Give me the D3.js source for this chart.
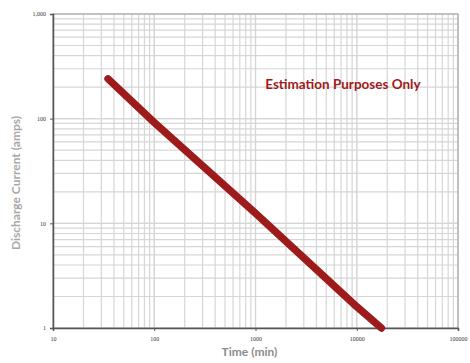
<!DOCTYPE html>
<meta charset="utf-8">
<body style="margin:0;background:#fff">
<script src="https://d3js.org/d3.v7.min.js"></script>
<script>
// discharge curve (time in min, current in amps)
var timeMin = [35, 100, 1000, 10000, 17500];
var currentAmps = [240, 92, 12.5, 1.6, 1];
var xTickValues = [10, 100, 1000, 10000, 100000];
var xTickLabels = ["10", "100", "1000", "10000", "100000"];
var yTickValues = [1, 10, 100, 1000];
var yTickLabels = ["1", "10", "100", "1,000"];

var margin = {top: 14, right: 12, bottom: 35, left: 53},
    width = 470 - margin.left - margin.right,
    height = 363 - margin.top - margin.bottom;

var svg = d3.select("body").append("svg")
    .attr("width", 470).attr("height", 363)
    .style("font-family", "Lato, 'Open Sans', sans-serif");
var g = svg.append("g").attr("transform", "translate(" + margin.left + "," + margin.top + ")");

var x = d3.scaleLog().domain([10, 100000]).range([0, width]);
var y = d3.scaleLog().domain([1, 1000]).range([height, 0]);

// minor + major gridlines
var xGrid = [], yGrid = [];
for (var d = 10; d < 100000; d *= 10) for (var k = 1; k <= 10; k++) xGrid.push(d * k);
for (var d = 1; d < 1000; d *= 10) for (var k = 1; k <= 10; k++) yGrid.push(d * k);

g.selectAll(".vg").data(xGrid).enter().append("line")
    .attr("x1", x).attr("x2", x).attr("y1", 0).attr("y2", height)
    .attr("stroke", "#d6d6d6").attr("stroke-width", 1.2);
g.selectAll(".hg").data(yGrid).enter().append("line")
    .attr("y1", y).attr("y2", y).attr("x1", 0).attr("x2", width)
    .attr("stroke", "#d6d6d6").attr("stroke-width", 1.2);

// plot border
g.append("rect").attr("width", width).attr("height", height)
    .attr("fill", "none").attr("stroke", "#9a9a9a").attr("stroke-width", 1);

// axes
var xAxis = g.append("g").attr("transform", "translate(0," + height + ")")
    .call(d3.axisBottom(x).tickValues(xTickValues).tickSize(3).tickPadding(6)
        .tickFormat(function(v, i) { return xTickLabels[i]; }));
var yAxis = g.append("g")
    .call(d3.axisLeft(y).tickValues(yTickValues).tickSize(3).tickPadding(4)
        .tickFormat(function(v, i) { return yTickLabels[i]; }));
[xAxis, yAxis].forEach(function(a) {
    a.select(".domain").attr("stroke", "#555").attr("stroke-width", 1.5);
    a.selectAll(".tick line").attr("stroke", "#555");
    a.selectAll("text").attr("fill", "#333").style("font-size", "6px")
        .style("font-family", "'Liberation Serif', serif");
});

// the curve
var line = d3.line().x(function(d) { return x(d[0]); }).y(function(d) { return y(d[1]); });
g.append("path").datum(d3.zip(timeMin, currentAmps))
    .attr("d", line).attr("fill", "none")
    .attr("stroke", "#9e1b1b").attr("stroke-width", 7.5)
    .attr("stroke-linecap", "round").attr("stroke-linejoin", "round");

// note
g.append("text").attr("x", x(7300)).attr("y", y(214) + 5)
    .attr("text-anchor", "middle")
    .attr("fill", "#9e1b1b").style("font-size", "13.5px").style("font-weight", "bold")
    .text("Estimation Purposes Only");

// axis titles
svg.append("text").attr("x", margin.left + width / 2 - 6).attr("y", 356)
    .attr("text-anchor", "middle").attr("fill", "#8c8c8c")
    .style("font-size", "12px").style("font-weight", "bold").text("Time (min)");
svg.append("text").attr("transform", "translate(20," + (margin.top + height / 2 + 12) + ") rotate(-90)")
    .attr("text-anchor", "middle").attr("fill", "#a8a8a8")
    .style("font-size", "12px").style("font-weight", "bold").text("Discharge Current (amps)");
</script>
</body>
